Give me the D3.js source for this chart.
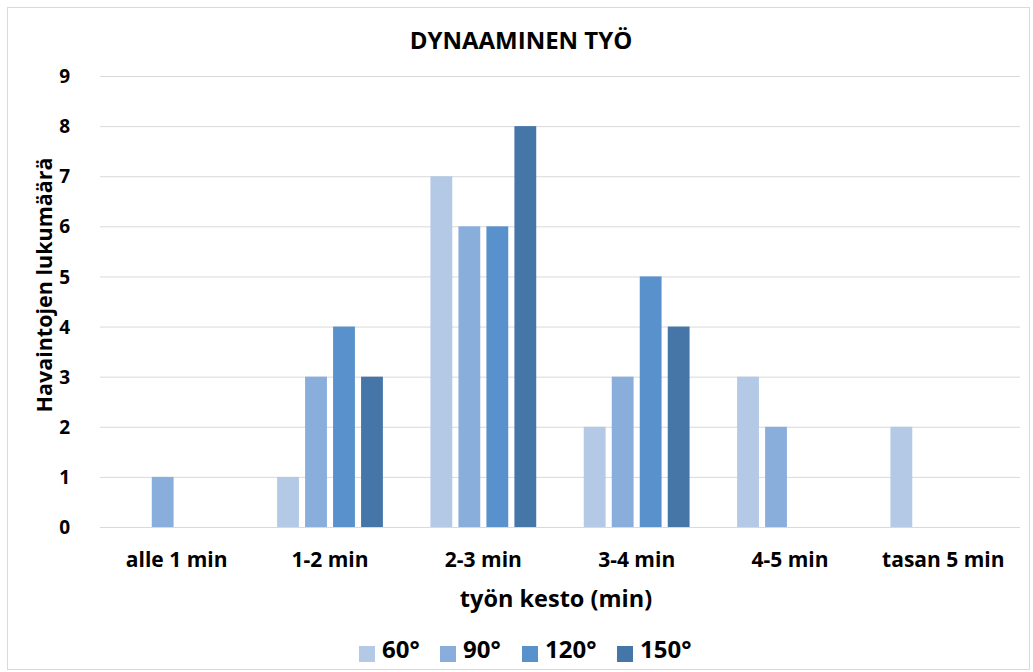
<!DOCTYPE html>
<html><head><meta charset="utf-8">
<script src="https://cdn.jsdelivr.net/npm/d3@7"></script>
<style>body{margin:0;background:#fff;}svg{display:block;font-family:"Open Sans","Noto Sans",sans-serif;}</style>
</head><body><svg id="c" width="1033" height="672"></svg>
<script>
const categories = ["alle 1 min","1-2 min","2-3 min","3-4 min","4-5 min","tasan 5 min"];
const seriesNames = ["60°","90°","120°","150°"];
const s60  = [0,1,7,2,3,2];
const s90  = [1,3,6,3,2,0];
const s120 = [0,4,6,5,0,0];
const s150 = [0,3,8,4,0,0];
const yTicks = [0,1,2,3,4,5,6,7,8,9];
const colors = ["#b4c9e6","#89aedc","#5891cb","#4676a8"];
const seriesVals = [s60,s90,s120,s150];

const svg = d3.select("#c");
svg.append("rect").attr("x",7.5).attr("y",7.5).attr("width",1022).attr("height",662)
  .attr("fill","#fff").attr("stroke","#d9d9d9");

const m = {l:100,r:1020,t:76,b:527};
const x0 = d3.scaleBand().domain(categories).range([m.l,m.r]).paddingInner(0.31).paddingOuter(0.155);
const x1 = d3.scaleBand().domain(seriesNames).range([0,x0.bandwidth()]).paddingInner(0.22).paddingOuter(0);
const y = d3.scaleLinear().domain([0,9]).range([m.b,m.t]);

// gridlines
svg.append("g").selectAll("line").data(yTicks).join("line")
  .attr("x1",m.l).attr("x2",m.r).attr("y1",d=>y(d)+0.5).attr("y2",d=>y(d)+0.5)
  .attr("stroke","#d9d9d9").attr("stroke-width",1);

// y axis labels
const ya = svg.append("g").attr("transform",`translate(${m.l-27},0)`)
  .call(d3.axisLeft(y).tickValues(yTicks).tickSize(0).tickFormat(d3.format("d")));
ya.select(".domain").remove();
ya.selectAll("text").attr("font-size",19).attr("font-weight","bold").attr("fill","#000")
  .attr("font-family","'Open Sans',sans-serif").attr("dy","0.35em");

// bars
const groups = svg.append("g").selectAll("g").data(categories).join("g")
  .attr("transform",d=>`translate(${x0(d)},0)`);
groups.selectAll("rect").data((c,i)=>seriesNames.map((s,j)=>({s,j,v:seriesVals[j][i]})).filter(d=>d.v>0))
  .join("rect")
  .attr("x",d=>x1(d.s)).attr("width",x1.bandwidth())
  .attr("y",d=>y(d.v)).attr("height",d=>y(0)-y(d.v))
  .attr("fill",d=>colors[d.j]);

// x axis labels
const xa = svg.append("g").attr("transform",`translate(0,${m.b})`)
  .call(d3.axisBottom(x0).tickSize(0).tickPadding(0));
xa.select(".domain").remove();
xa.selectAll("text").attr("font-size",21).attr("font-weight","bold").attr("fill","#000")
  .attr("font-family","'Open Sans',sans-serif").attr("dy",null).attr("y",40);

// title
svg.append("text").attr("x",521).attr("y",49).attr("text-anchor","middle")
  .attr("font-size",24).attr("font-weight","bold").text("DYNAAMINEN TYÖ");

// axis titles
svg.append("text").attr("x",556).attr("y",607).attr("text-anchor","middle")
  .attr("font-size",23.5).attr("font-weight","bold").text("työn kesto (min)");
svg.append("text").attr("transform","translate(52,285) rotate(-90)").attr("text-anchor","middle")
  .attr("font-size",21.5).attr("font-weight","bold").text("Havaintojen lukumäärä");

// legend
const legX = [359,440,522,617];
const leg = svg.append("g").selectAll("g").data(seriesNames).join("g")
  .attr("transform",(d,i)=>`translate(${legX[i]},658)`);
leg.append("rect").attr("x",0).attr("y",-12).attr("width",16).attr("height",16).attr("fill",(d,i)=>colors[i]);
leg.append("text").attr("x",23).attr("y",0).attr("font-size",24).attr("font-weight","bold").text(d=>d);
</script></body></html>
